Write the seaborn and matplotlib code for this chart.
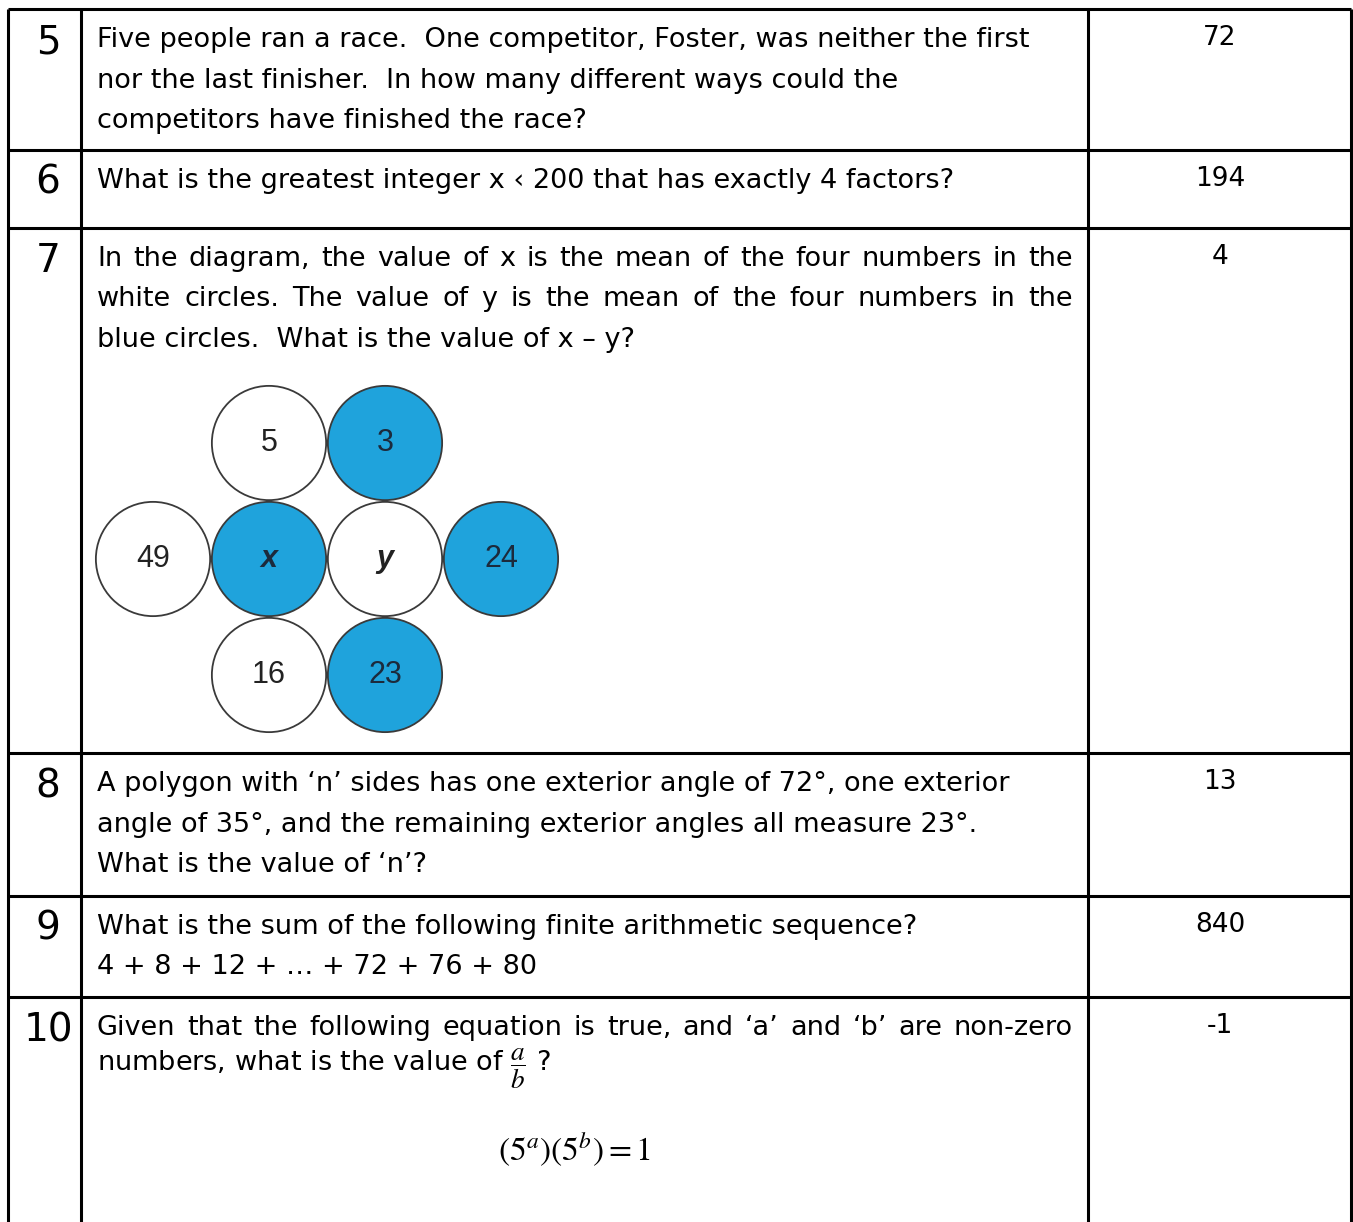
import numpy as np
import pandas as pd
import seaborn as sns
import matplotlib.pyplot as plt

# Question numbers, question text (one entry per line) and answers
q_numbers = ['5', '6', '7', '8', '9', '10']
q_lines = [
    ['Five people ran a race.  One competitor, Foster, was neither the first',
     'nor the last finisher.  In how many different ways could the',
     'competitors have finished the race?'],
    ['What is the greatest integer x \u2039 200 that has exactly 4 factors?'],
    ['In the diagram, the value of x is the mean of the four numbers in the',
     'white circles.  The value of y is the mean of the four numbers in the',
     'blue circles.  What is the value of x \u2013 y?'],
    ['A polygon with \u2018n\u2019 sides has one exterior angle of 72\u00b0, one exterior',
     'angle of 35\u00b0, and the remaining exterior angles all measure 23\u00b0.',
     'What is the value of \u2018n\u2019?'],
    ['What is the sum of the following finite arithmetic sequence?',
     '4 + 8 + 12 + \u2026 + 72 + 76 + 80'],
    ['Given that the following equation is true, and \u2018a\u2019 and \u2018b\u2019 are non-zero',
     r'numbers, what is the value of $\dfrac{a}{b}$ ?'],
]
answers = ['72', '194', '4', '13', '840', '-1']
equation = r'$(5^{a})\left(5^{b}\right) = 1$'

# Circle diagram for question 7
circle_labels = ['5', '3', '49', 'x', 'y', '24', '16', '23']
circle_col = [1, 2, 0, 1, 2, 3, 1, 2]
circle_row = [0, 0, 1, 1, 1, 1, 2, 2]
circle_fill = ['white', 'blue', 'white', 'blue', 'white', 'blue', 'white', 'blue']

# layout (pixels)
W, H = 1353, 1222
row_tops = [9, 150, 228, 753, 896, 997]
col_edges = [8, 81, 1088, 1351]
justified = {(2, 0), (2, 1), (5, 0)}
text_left, text_right = 97, 1073
fs = 19.5

sns.set_theme(style='white')
plt.rcParams['font.family'] = ['DejaVu Sans']
plt.rcParams['mathtext.fontset'] = 'stix'
plt.rcParams['text.color'] = 'black'

fig = plt.figure(figsize=(W / 100, H / 100), dpi=100)
ax = fig.add_axes([0, 0, 1, 1])
ax.set_xlim(0, W)
ax.set_ylim(H, 0)
ax.axis('off')
renderer = fig.canvas.get_renderer()


def justify(y, line):
    words = line.split()
    arts = [ax.text(0, y, w, fontsize=fs, ha='left', va='center') for w in words]
    widths = [a.get_window_extent(renderer).width for a in arts]
    gap = (text_right - text_left - sum(widths)) / (len(words) - 1)
    x = text_left
    for a, w in zip(arts, widths):
        a.set_x(x)
        x += w + gap


# table grid
lw = 2.2
ax.hlines(row_tops, col_edges[0], col_edges[-1], color='black', lw=lw)
ax.vlines(col_edges, row_tops[0], H + 5, color='black', lw=lw)

for i, top in enumerate(row_tops):
    ax.text(48, top + 33, q_numbers[i], fontsize=28, ha='center', va='center')
    for j, line in enumerate(q_lines[i]):
        y = top + 31 + j * 40.5
        if (i, j) in justified:
            justify(y, line)
        else:
            ax.text(text_left, y, line, fontsize=fs, ha='left', va='center')
    ax.text(1220, top + 29, answers[i], fontsize=19, ha='center', va='center')

ax.text(574, 1150, equation, fontsize=24, ha='center', va='center')

# diagram circles
step, x0, y0 = 116, 153, 443
circles = pd.DataFrame({'label': circle_labels, 'col': circle_col,
                        'row': circle_row, 'fill': circle_fill})
circles['x'] = x0 + circles['col'] * step
circles['y'] = y0 + circles['row'] * step
size_pt = step * 72 / 100 * 0.985
sns.scatterplot(data=circles, x='x', y='y', hue='fill',
                palette={'white': 'white', 'blue': '#1fa3dc'},
                s=size_pt ** 2, edgecolor='#3a3a3a', linewidth=1.3,
                legend=False, ax=ax, zorder=3)
for _, c in circles.iterrows():
    is_var = c['label'] in ('x', 'y')
    ax.text(c['x'], c['y'], c['label'], fontsize=22,
            family='Liberation Sans',
            fontweight='bold' if is_var else 'normal',
            fontstyle='italic' if is_var else 'normal',
            color='#1c2a3c' if c['fill'] == 'blue' else '#222222',
            ha='center', va='center', zorder=4)

fig.savefig('out.png', dpi=100)
